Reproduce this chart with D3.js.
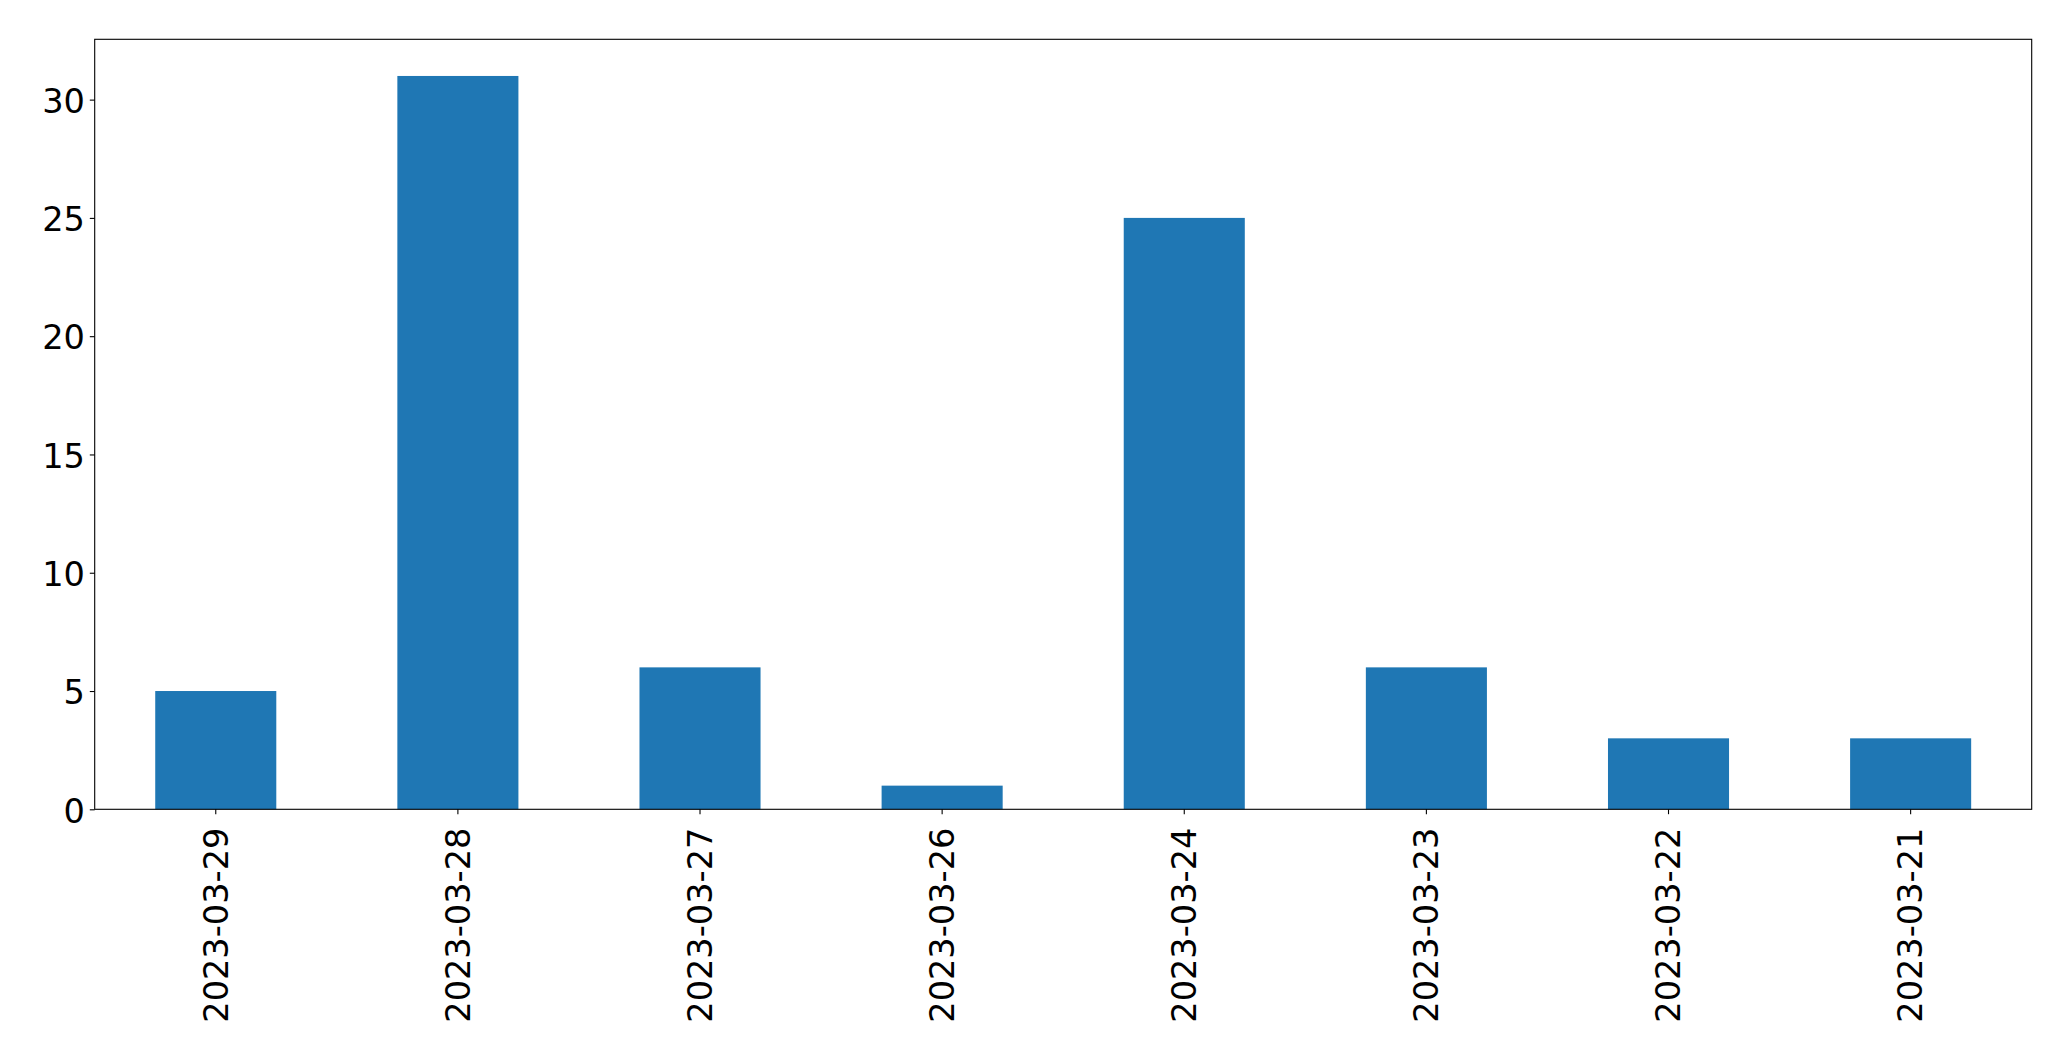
<!DOCTYPE html>
<html>
<head>
<meta charset="utf-8">
<script src="https://cdn.jsdelivr.net/npm/d3@7"></script>
<style>
  html, body { margin: 0; padding: 0; background: #fff; }
  svg { display: block; }
</style>
</head>
<body>
<svg id="chart" width="2071" height="1061"></svg>
<script>
const categories = ["2023-03-29", "2023-03-28", "2023-03-27", "2023-03-26", "2023-03-24", "2023-03-23", "2023-03-22", "2023-03-21"];
const values = [5, 31, 6, 1, 25, 6, 3, 3];
const yTicks = [0, 5, 10, 15, 20, 25, 30];

const W = 2071, H = 1061;
const margin = { left: 94.7, right: W - 2031.7, top: 39.3, bottom: H - 809.3 };
const fontSize = 33.6;
const tickLen = 4.9, pad = 4.9;

const svg = d3.select("#chart");
svg.append("rect").attr("width", W).attr("height", H).attr("fill", "#fff");

const x = d3.scaleBand()
  .domain(categories)
  .range([margin.left, W - margin.right])
  .paddingInner(0.5)
  .paddingOuter(0.25);

const yMax = d3.max(values) * 1.05;
const y = d3.scaleLinear()
  .domain([0, yMax])
  .range([H - margin.bottom, margin.top]);

// bars
svg.append("g").selectAll("rect")
  .data(values)
  .join("rect")
  .attr("x", (d, i) => x(categories[i]))
  .attr("y", d => y(d))
  .attr("width", x.bandwidth())
  .attr("height", d => y(0) - y(d))
  .attr("fill", "#1f77b4");

// x axis
const xAxis = svg.append("g")
  .attr("transform", `translate(0,${H - margin.bottom})`)
  .call(d3.axisBottom(x).tickSize(tickLen).tickPadding(pad).tickSizeOuter(0));
xAxis.select(".domain").remove();
xAxis.selectAll(".tick line").attr("stroke", "#000").attr("stroke-width", 1.1);
xAxis.selectAll(".tick text")
  .attr("font-family", "DejaVu Sans")
  .attr("font-size", fontSize)
  .attr("fill", "#000")
  .attr("text-anchor", "end")
  .attr("transform", "rotate(-90)")
  .attr("x", -(tickLen + pad + 8.5))
  .attr("y", 0)
  .attr("dy", "0.35em");

// y axis
const yAxis = svg.append("g")
  .attr("transform", `translate(${margin.left},0)`)
  .call(d3.axisLeft(y).tickValues(yTicks).tickFormat(d3.format("d")).tickSize(tickLen).tickPadding(pad).tickSizeOuter(0));
yAxis.select(".domain").remove();
yAxis.selectAll(".tick line").attr("stroke", "#000").attr("stroke-width", 1.1);
yAxis.selectAll(".tick text")
  .attr("font-family", "DejaVu Sans")
  .attr("font-size", fontSize)
  .attr("fill", "#000")
  .attr("dy", "0.38em");

// frame (spines)
svg.append("rect")
  .attr("x", margin.left)
  .attr("y", margin.top)
  .attr("width", W - margin.left - margin.right)
  .attr("height", H - margin.top - margin.bottom)
  .attr("fill", "none")
  .attr("stroke", "#000")
  .attr("stroke-width", 1.1);
</script>
</body>
</html>
